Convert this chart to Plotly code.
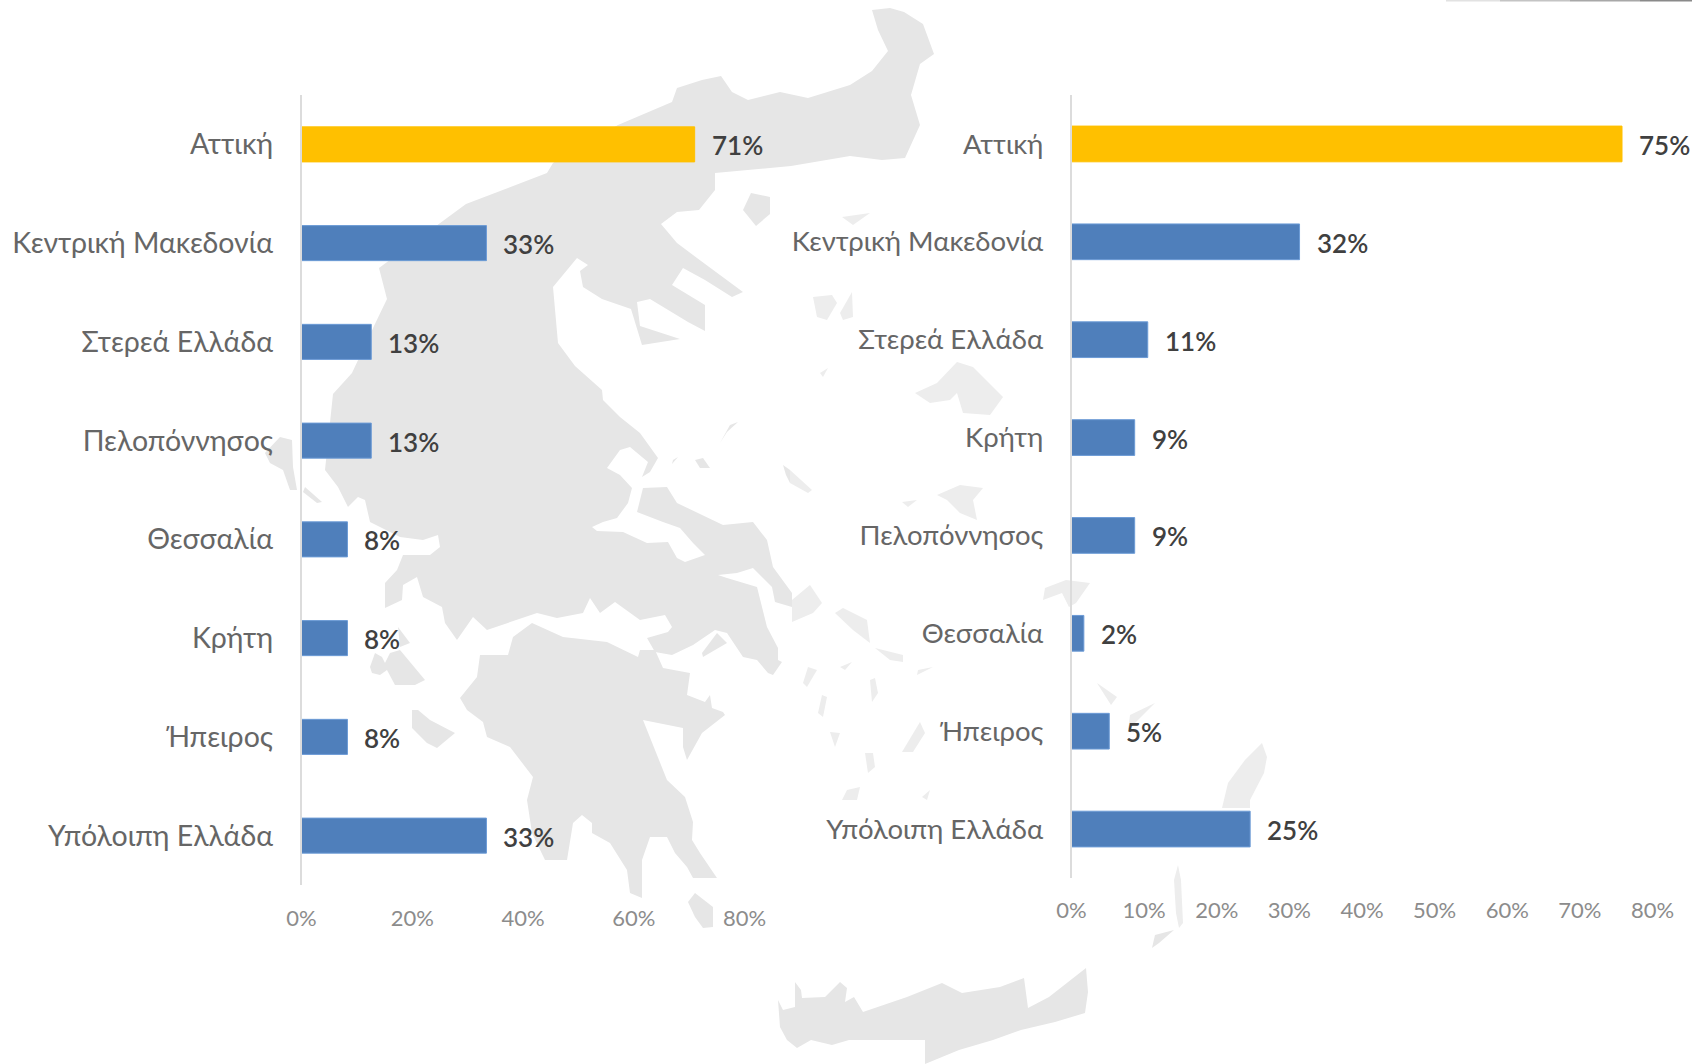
import plotly.graph_objects as go

W, H = 1699, 1064
FONT = "Lato, 'Open Sans', sans-serif"

# ---------- data ----------
left_categories = ["Αττική", "Κεντρική Μακεδονία", "Στερεά Ελλάδα", "Πελοπόννησος",
                   "Θεσσαλία", "Κρήτη", "Ήπειρος", "Υπόλοιπη Ελλάδα"]
left_values = [71, 33.4, 12.6, 12.6, 8.3, 8.3, 8.3, 33.4]
left_labels = ["71%", "33%", "13%", "13%", "8%", "8%", "8%", "33%"]
left_ticks = [0, 20, 40, 60, 80]

right_categories = ["Αττική", "Κεντρική Μακεδονία", "Στερεά Ελλάδα", "Κρήτη",
                    "Πελοπόννησος", "Θεσσαλία", "Ήπειρος", "Υπόλοιπη Ελλάδα"]
right_values = [75.8, 31.4, 10.5, 8.7, 8.7, 1.7, 5.2, 24.6]
right_labels = ["75%", "32%", "11%", "9%", "9%", "2%", "5%", "25%"]
right_ticks = [0, 10, 20, 30, 40, 50, 60, 70, 80]

BLUE, GOLD = "#4F7FBB", "#FFC000"

# ---------- decorative background map of Greece (page pixels) ----------
mainland = [(618,125),(672,102),(677,88),(702,80),(721,76),(732,92),(748,100),(780,92),(808,98),(850,85),
 (872,71),(888,51),(878,30),(872,10),(890,8),(904,12),(923,24),(934,54),(920,64),(911,95),(920,125),(905,158),
 (882,160),(850,156),(791,166),(715,173),(715,190),(699,210),(677,212),(661,224),(677,243),(697,258),(743,292),
 (732,297),(705,280),(683,268),(672,285),(705,305),(705,331),(688,322),(650,299),(637,302),(640,326),(680,339),
 (642,345),(631,309),(602,299),(583,287),(580,271),(588,265),(577,258),(553,287),(558,343),(575,366),(602,390),
 (603,400),(620,417),(640,433),(658,458),(650,472),(642,477),(648,462),(630,447),(620,450),(607,468),(620,475),
 (632,488),(628,503),(617,518),(603,522),(592,527),(597,531),(623,532),(647,543),(668,542),(677,558),(685,562),
 (705,555),(693,543),(680,528),(663,522),(637,512),(643,488),(667,487),(677,503),(723,525),(753,522),(767,540),
 (773,567),(792,593),(792,607),(775,602),(772,587),(753,568),(737,573),(718,575),(727,578),(757,587),(767,627),
 (778,648),(778,660),(782,662),(773,675),(768,673),(757,660),(743,657),(727,633),(715,630),(693,645),(672,655),
 (655,652),(647,638),(668,632),(672,627),(665,615),(640,620),(615,602),(600,613),(590,598),(583,613),(557,618),
 (537,613),(487,630),(473,617),(457,640),(445,623),(442,607),(423,597),(417,577),(403,585),(402,600),(385,608),
 (385,583),(397,570),(403,555),(430,555),(440,547),(438,535),(423,540),(400,537),(370,522),(365,500),(358,497),
 (348,507),(338,487),(325,470),(333,394),(352,373),(374,326),(387,299),(379,268),(466,204),(547,173),(553,163)]
peloponnese = [(532,623),(513,637),(508,655),(480,655),(477,677),(460,698),(467,710),(483,722),(487,737),(510,747),
 (533,777),(527,800),(532,833),(545,860),(567,860),(573,823),(582,815),(592,823),(592,833),(610,843),(627,870),
 (630,893),(642,898),(642,860),(650,837),(667,837),(675,853),(687,867),(693,878),(717,878),(700,853),(692,840),
 (693,822),(685,797),(667,780),(643,720),(683,728),(683,747),(687,760),(702,733),(725,715),(723,712),(712,708),
 (710,695),(705,702),(687,695),(690,673),(663,668),(655,650),(640,650),(638,657),(607,642),(563,637)]
crete = [(778,1000),(783,1010),(795,1007),(795,982),(801,990),(802,998),(825,997),(840,982),(847,988),(845,1002),
 (854,997),(863,1012),(907,997),(942,983),(962,993),(1000,987),(1024,978),(1028,1008),(1049,997),(1086,968),
 (1088,992),(1085,1013),(1055,1022),(1021,1030),(993,1040),(959,1050),(925,1064),(925,1040),(887,1040),(849,1040),
 (832,1045),(811,1040),(797,1048),(787,1040),(780,1027)]
islands_dark = [
 [(265,453),(280,437),(292,440),(293,467),(297,490),(290,490),(283,470),(270,463)],
 [(305,487),(322,502),(317,503),(303,492)],
 [(398,627),(410,643),(400,647)],
 [(370,667),(375,653),(382,657),(385,663),(390,653),(400,650),(425,680),(415,685),(395,685),(387,670),(380,675),(372,673)],
 [(412,710),(418,710),(430,720),(455,733),(437,748),(427,743),(412,728)],
 [(688,902),(695,893),(713,907),(713,927),(703,928),(695,917)],
 [(702,653),(717,633),(727,643),(703,657)],
 [(743,210),(751,193),(770,197),(770,214),(756,226)],
 [(673,460),(678,457),(672,464)],
 [(695,460),(703,458),(710,468),(700,468)],
 [(720,443),(727,432),(738,422),(730,425)],
 [(783,465),(790,470),(790,483),(786,475)],
 [(1152,948),(1155,935),(1174,930),(1159,943)],
]
islands_light = [
 [(1262,743),(1267,757),(1264,773),(1250,800),(1250,808),(1222,808),(1228,783),(1245,760)],
 [(1178,865),(1181,880),(1183,923),(1179,928),(1176,913),(1174,880)],
 [(1130,715),(1155,703),(1145,713),(1128,730)],
 [(1097,683),(1117,697),(1111,705)],
 [(1043,600),(1045,588),(1066,580),(1090,583),(1076,603),(1069,607),(1062,593)],
 [(937,495),(960,485),(983,488),(973,500),(977,520),(960,513),(947,500)],
 [(902,502),(917,500),(908,507)],
 [(915,393),(937,383),(957,362),(973,367),(1003,397),(990,415),(963,413),(957,393),(950,400),(930,403)],
 [(813,297),(832,295),(837,303),(827,320),(817,317)],
 [(840,313),(852,292),(853,317),(843,320)],
 [(842,217),(870,213),(853,225)],
 [(820,373),(828,368),(823,377)],
 [(790,470),(812,490),(808,493),(790,483)],
 [(792,600),(810,585),(822,603),(813,613),(792,622)],
 [(835,613),(843,608),(867,620),(870,643),(853,630)],
 [(875,648),(903,655),(903,662),(890,660)],
 [(917,675),(933,667),(918,670)],
 [(803,683),(808,667),(817,670),(807,687)],
 [(840,667),(852,662),(845,670)],
 [(870,680),(875,678),(878,693),(872,702)],
 [(818,713),(822,695),(827,697),(823,717)],
 [(830,732),(840,733),(835,747)],
 [(865,753),(873,753),(875,767),(868,773)],
 [(902,752),(920,722),(925,733),(913,752)],
 [(847,790),(860,787),(857,800),(842,800)],
 [(922,797),(930,790),(927,800)],
]

def path(points):
    coords = [f"{x/W:.5f},{1-y/H:.5f}" for x, y in points]
    return "M" + "L".join(coords) + "Z"

shapes = []
for poly in [mainland, peloponnese, crete] + islands_dark:
    shapes.append(dict(type="path", path=path(poly), xref="paper", yref="paper",
                       fillcolor="#E6E6E6", line_width=0, layer="below"))
for poly in islands_light:
    shapes.append(dict(type="path", path=path(poly), xref="paper", yref="paper",
                       fillcolor="#EDEDED", line_width=0, layer="below"))
# thin grey sliver along the very top right of the page
for x0, x1, c in [(1446, 1500, "#E2E2E2"), (1500, 1570, "#C4C4C4"), (1570, 1640, "#A8A8A8"), (1640, 1692, "#8A8A8A")]:
    shapes.append(dict(type="rect", x0=x0/W, x1=x1/W, y0=1-1.5/H, y1=1, xref="paper", yref="paper",
                       fillcolor=c, line_width=0, layer="below"))

# ---------- figure ----------
fig = go.Figure()

def add_chart(cats, vals, labels, ticks, xa, ya, x_dom, y_dom, gap, standoff, label_size):
    colors = [GOLD] + [BLUE] * (len(cats) - 1)
    edges = [GOLD] + ["#6C9BD6"] * (len(cats) - 1)
    fig.add_trace(go.Bar(y=cats, x=vals, orientation="h", width=1 - gap, xaxis=xa, yaxis=ya,
                         marker=dict(color=colors, line=dict(color=edges, width=1)),
                         hoverinfo="skip", showlegend=False))
    sx, sy = xa.replace("x", "xaxis"), ya.replace("y", "yaxis")
    fig.update_layout({
        sx: dict(domain=[x_dom[0]/W, x_dom[1]/W], range=[0, 80], tickvals=ticks,
                 ticktext=[f"{t}%" for t in ticks], showgrid=False, zeroline=False, showline=False,
                 ticks="", anchor=ya, ticklabelstandoff=standoff, automargin=False,
                 tickfont=dict(family=FONT, size=22, color="#8C8C8C")),
        sy: dict(domain=[1 - y_dom[1]/H, 1 - y_dom[0]/H], type="category", categoryorder="array",
                 categoryarray=cats, range=[len(cats) - 0.5, -0.5], showgrid=False, zeroline=False,
                 showline=True, linecolor="#DCDCDC", linewidth=1.5, ticks="", anchor=xa, automargin=False,
                 ticklabelstandoff=21, tickfont=dict(family=FONT, size=label_size, color="#666666")),
    })
    for c, v, t in zip(cats, vals, labels):
        fig.add_annotation(x=v, y=c, xref=xa, yref=ya, text=t, showarrow=False, xanchor="left",
                           xshift=15, yshift=-1, font=dict(family=FONT, size=26, color="#404040", weight=600))

add_chart(left_categories, left_values, left_labels, left_ticks, "x", "y",
          (301.5, 744.5), (95, 885), 0.645, 18, 28.5)
add_chart(right_categories, right_values, right_labels, right_ticks, "x2", "y2",
          (1071.5, 1652.5), (95, 878), 0.635, 17, 27.5)

fig.update_layout(width=W, height=H, margin=dict(l=0, r=0, t=0, b=0), autosize=False,
                  paper_bgcolor="white", plot_bgcolor="rgba(0,0,0,0)", shapes=shapes,
                  font=dict(family=FONT))

fig.write_html("out.html", config=dict(displayModeBar=False),
               post_script="document.body.style.margin='0';document.body.style.overflow='hidden';")
